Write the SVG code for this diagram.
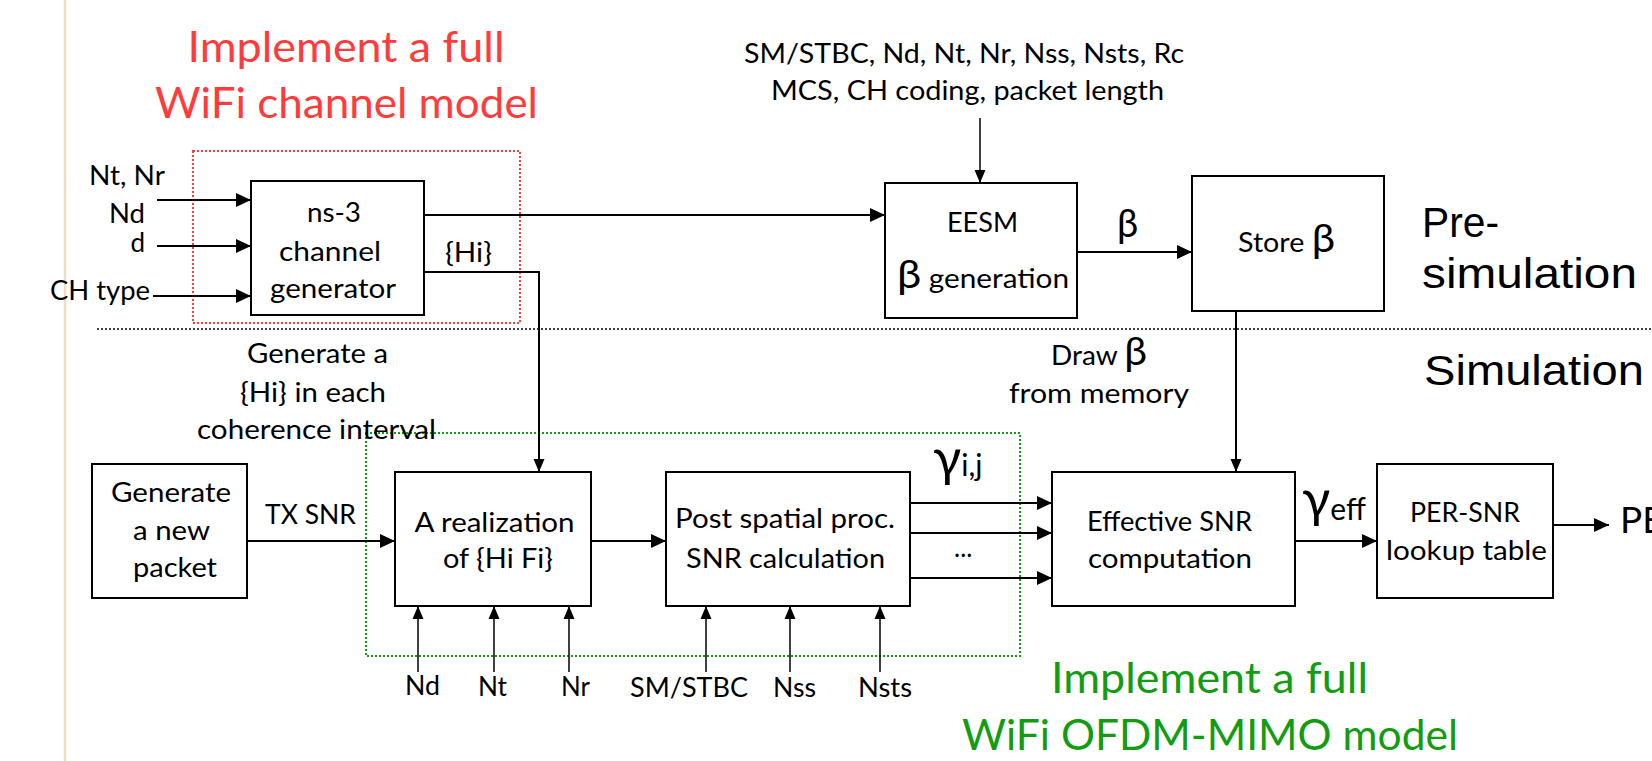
<svg xmlns="http://www.w3.org/2000/svg" width="1652" height="761" viewBox="0 0 1652 761">
<defs>
<marker id="ah" markerUnits="userSpaceOnUse" markerWidth="16" markerHeight="16" viewBox="0 0 16 16" refX="15" refY="8" orient="auto">
<path d="M0,1 L15,8 L0,15 Z" fill="#000"/>
</marker>
<marker id="ahs" markerUnits="userSpaceOnUse" markerWidth="14" markerHeight="14" viewBox="0 0 14 14" refX="13" refY="7" orient="auto">
<path d="M0,1.5 L13,7 L0,12.5 Z" fill="#000"/>
</marker>
<style>
text{font-family:Lato,"Open Sans","Liberation Sans",sans-serif;font-size:26px;fill:#000}
.big{font-size:43px}
.red{fill:#ff3b3b}
.grn{fill:#129c12}
.ar{font-family:"Liberation Sans",Arial,sans-serif;font-size:42px}
.box{fill:#fff;stroke:#000;stroke-width:2}
.c{fill:none;stroke:#000;stroke-width:2}
.cs{fill:none;stroke:#000;stroke-width:1.5}
.gk{font-family:Lato,"DejaVu Sans",sans-serif;font-size:38px}
.gm{font-family:Lato,"DejaVu Sans",sans-serif;font-size:52px}
.sub{font-size:30px}
.pe{font-size:37px}
.e27{font-size:27px}
</style>
</defs>
<rect width="1652" height="761" fill="#fff"/>
<line x1="65" y1="0" x2="65" y2="761" stroke="#e9dfc4" stroke-width="2.5"/>

<g id="regions">
<rect x="193" y="151" width="327" height="172" fill="none" stroke="#ff3b3b" stroke-width="2" stroke-dasharray="2,2"/>
<rect x="366" y="433" width="654" height="223" fill="none" stroke="#129c12" stroke-width="2" stroke-dasharray="2,2"/>
<line x1="97" y1="329" x2="1652" y2="329" stroke="#000" stroke-width="1.5" stroke-dasharray="2,2"/>
</g>

<g id="titles">
<text class="big red" x="187.5" y="62" textLength="317" lengthAdjust="spacingAndGlyphs">Implement a full</text>
<text class="big red" x="155" y="118" textLength="383" lengthAdjust="spacingAndGlyphs">WiFi channel model</text>
<text class="big grn" x="1051" y="693" textLength="317" lengthAdjust="spacingAndGlyphs">Implement a full</text>
<text class="big grn" x="962" y="750" textLength="496" lengthAdjust="spacingAndGlyphs">WiFi OFDM-MIMO model</text>
<text class="ar" x="1422" y="237" textLength="77" lengthAdjust="spacingAndGlyphs">Pre-</text>
<text class="ar" x="1422" y="288" textLength="215" lengthAdjust="spacingAndGlyphs">simulation</text>
<text class="ar" x="1424" y="385" textLength="220" lengthAdjust="spacingAndGlyphs">Simulation</text>
</g>

<g id="connectors">
<line class="c" x1="157" y1="200" x2="251" y2="200" marker-end="url(#ah)"/>
<line class="c" x1="157" y1="246" x2="251" y2="246" marker-end="url(#ah)"/>
<line class="c" x1="153" y1="296" x2="251" y2="296" marker-end="url(#ah)"/>
<line class="c" x1="424" y1="215" x2="885" y2="215" marker-end="url(#ah)"/>
<polyline class="c" points="424,272 539,272 539,472" marker-end="url(#ahs)"/>
<line class="cs" x1="980" y1="118" x2="980" y2="183" marker-end="url(#ahs)"/>
<line class="c" x1="1077" y1="252" x2="1192" y2="252" marker-end="url(#ah)"/>
<line class="c" x1="1236" y1="311" x2="1236" y2="472" marker-end="url(#ahs)"/>
<line class="c" x1="247" y1="541" x2="395" y2="541" marker-end="url(#ah)"/>
<line class="c" x1="591" y1="541" x2="666" y2="541" marker-end="url(#ah)"/>
<line class="c" x1="910" y1="503" x2="1052" y2="503" marker-end="url(#ah)"/>
<line class="c" x1="910" y1="533" x2="1052" y2="533" marker-end="url(#ah)"/>
<line class="c" x1="910" y1="578" x2="1052" y2="578" marker-end="url(#ah)"/>
<line class="c" x1="1295" y1="541" x2="1377" y2="541" marker-end="url(#ah)"/>
<line class="c" x1="1553" y1="525" x2="1609" y2="525" marker-end="url(#ah)"/>
<line class="cs" x1="418" y1="672" x2="418" y2="606" marker-end="url(#ahs)"/>
<line class="cs" x1="494" y1="672" x2="494" y2="606" marker-end="url(#ahs)"/>
<line class="cs" x1="569" y1="672" x2="569" y2="606" marker-end="url(#ahs)"/>
<line class="cs" x1="706" y1="672" x2="706" y2="606" marker-end="url(#ahs)"/>
<line class="cs" x1="790" y1="672" x2="790" y2="606" marker-end="url(#ahs)"/>
<line class="cs" x1="880" y1="672" x2="880" y2="606" marker-end="url(#ahs)"/>
</g>

<g id="labels">
<text x="89" y="185" textLength="76" lengthAdjust="spacingAndGlyphs">Nt, Nr</text>
<text x="109" y="223" textLength="36" lengthAdjust="spacingAndGlyphs">Nd</text>
<text x="145" y="252" text-anchor="end">d</text>
<text x="50" y="300" textLength="100" lengthAdjust="spacingAndGlyphs">CH type</text>
<text x="445" y="262" textLength="47" lengthAdjust="spacingAndGlyphs">{Hi}</text>
<text x="744" y="63" textLength="440" lengthAdjust="spacingAndGlyphs">SM/STBC, Nd, Nt, Nr, Nss, Nsts, Rc</text>
<text x="771" y="100" textLength="393" lengthAdjust="spacingAndGlyphs">MCS, CH coding, packet length</text>
<text class="gk" x="1117" y="237">β</text>
<text x="247" y="363" textLength="141" lengthAdjust="spacingAndGlyphs">Generate a</text>
<text x="240" y="402" textLength="146" lengthAdjust="spacingAndGlyphs">{Hi} in each</text>
<text x="197" y="439" textLength="239" lengthAdjust="spacingAndGlyphs">coherence interval</text>
<text x="265" y="524" textLength="91" lengthAdjust="spacingAndGlyphs">TX SNR</text>
<text x="1051" y="365" textLength="96" lengthAdjust="spacingAndGlyphs">Draw <tspan class="gk">β</tspan></text>
<text x="1009" y="403" textLength="180" lengthAdjust="spacingAndGlyphs">from memory</text>
<text class="gm" x="933" y="476">γ<tspan class="sub">i,j</tspan></text>
<text x="954" y="557">...</text>
<text class="gm" x="1302" y="517">γ<tspan class="sub" dy="3">eff</tspan></text>
<text class="pe" x="1620" y="533">PE</text>
<text x="405" y="695" textLength="35" lengthAdjust="spacingAndGlyphs">Nd</text>
<text x="478" y="696" textLength="29" lengthAdjust="spacingAndGlyphs">Nt</text>
<text x="561" y="696" textLength="29" lengthAdjust="spacingAndGlyphs">Nr</text>
<text x="630" y="697" textLength="118" lengthAdjust="spacingAndGlyphs">SM/STBC</text>
<text x="773" y="697" textLength="43" lengthAdjust="spacingAndGlyphs">Nss</text>
<text x="858" y="697" textLength="54" lengthAdjust="spacingAndGlyphs">Nsts</text>
</g>

<g id="ns3">
<rect class="box" x="251" y="181" width="173" height="134"/>
<text x="307" y="222" textLength="54" lengthAdjust="spacingAndGlyphs">ns-3</text>
<text x="279" y="261" textLength="102" lengthAdjust="spacingAndGlyphs">channel</text>
<text x="270" y="298" textLength="126" lengthAdjust="spacingAndGlyphs">generator</text>
</g>
<g id="eesm">
<rect class="box" x="885" y="183" width="192" height="135"/>
<text class="e27" x="947" y="232" textLength="71" lengthAdjust="spacingAndGlyphs">EESM</text>
<text x="897" y="288" textLength="172" lengthAdjust="spacingAndGlyphs"><tspan class="gk">β</tspan> generation</text>
</g>
<g id="store">
<rect class="box" x="1192" y="176" width="192" height="135"/>
<text x="1238" y="252" textLength="97" lengthAdjust="spacingAndGlyphs">Store <tspan class="gk">β</tspan></text>
</g>
<g id="generate">
<rect class="box" x="92" y="464" width="155" height="134"/>
<text x="111" y="502" textLength="120" lengthAdjust="spacingAndGlyphs">Generate</text>
<text x="133" y="540" textLength="77" lengthAdjust="spacingAndGlyphs">a new</text>
<text x="133" y="577" textLength="84" lengthAdjust="spacingAndGlyphs">packet</text>
</g>
<g id="realization">
<rect class="box" x="395" y="472" width="196" height="134"/>
<text x="414.5" y="532" textLength="160" lengthAdjust="spacingAndGlyphs">A realization</text>
<text x="443" y="568" textLength="110" lengthAdjust="spacingAndGlyphs">of {Hi Fi}</text>
</g>
<g id="post">
<rect class="box" x="666" y="472" width="244" height="134"/>
<text x="675" y="528" textLength="220" lengthAdjust="spacingAndGlyphs">Post spatial proc.</text>
<text x="686" y="568" textLength="199" lengthAdjust="spacingAndGlyphs">SNR calculation</text>
</g>
<g id="effective">
<rect class="box" x="1052" y="472" width="243" height="134"/>
<text x="1087" y="531" textLength="165" lengthAdjust="spacingAndGlyphs">Effective SNR</text>
<text x="1088" y="568" textLength="164" lengthAdjust="spacingAndGlyphs">computation</text>
</g>
<g id="per">
<rect class="box" x="1377" y="464" width="176" height="134"/>
<text x="1410" y="522" textLength="110" lengthAdjust="spacingAndGlyphs">PER-SNR</text>
<text x="1386" y="560" textLength="161" lengthAdjust="spacingAndGlyphs">lookup table</text>
</g>
</svg>
